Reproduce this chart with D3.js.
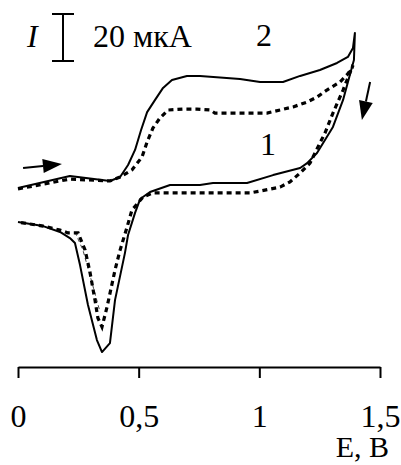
<!DOCTYPE html>
<html>
<head>
<meta charset="utf-8">
<title>CV</title>
<style>
  html, body {margin: 0; padding: 0; background: #fff;}
  svg {display: block;}
</style>
</head>
<body>
<div id="chart"></div>
<script src="https://cdn.jsdelivr.net/npm/d3@7"></script>
<script>
// potential, V
var curve2E = [0, 0.215, 0.381, 0.423, 0.456, 0.485, 0.510, 0.535, 0.568, 0.601, 0.638, 0.700, 0.754, 0.920, 1.003, 1.098, 1.169, 1.251, 1.322, 1.367, 1.388, 1.396,
               1.392, 1.384, 1.347, 1.305, 1.239, 1.198, 1.169, 1.057, 0.949, 0.808, 0.754, 0.630, 0.547, 0.506, 0.485, 0.456, 0.443, 0.402, 0.381, 0.348,
               0.327, 0.290, 0.257, 0.236, 0.215, 0.174, 0.104, 0];
// current, uA (arbitrary zero)
var curve2I = [5.1, 10.2, 8.1, 9.8, 14.9, 21.3, 29.8, 37.4, 42.6, 47.7, 51.1, 52.8, 52.8, 51.5, 50.2, 50.2, 52.8, 55.3, 58.3, 60.9, 64.7, 71.1,
               59.6, 56.6, 42.6, 31.1, 20.0, 15.7, 13.6, 10.6, 7.2, 7.2, 6.4, 6.4, 3.4, 0.4, -5.5, -14.9, -22.6, -42.6, -60.9, -64.7,
               -59.6, -44.7, -27.7, -18.3, -16.2, -13.6, -11.1, -9.4];

var curve1E = [0, 0.215, 0.381, 0.423, 0.472, 0.514, 0.535, 0.559, 0.588, 0.622, 0.684, 0.742, 0.796, 0.816, 0.866, 0.990, 1.032, 1.086, 1.140, 1.198,
               1.239, 1.280, 1.334, 1.363, 1.384, 1.388,
               1.347, 1.305, 1.272, 1.243, 1.210, 1.169, 1.127, 1.086, 1.003, 0.961, 0.754, 0.559, 0.518, 0.497, 0.472, 0.452, 0.423, 0.402, 0.369, 0.348,
               0.331, 0.319, 0.298, 0.278, 0.249, 0.207, 0.174, 0.104, 0];
var curve1I = [4.7, 8.9, 8.1, 9.8, 12.8, 18.3, 24.7, 30.6, 34.9, 38.3, 38.7, 38.7, 38.3, 37.0, 37.0, 37.0, 37.0, 38.3, 39.6, 41.7,
               43.8, 46.8, 50.2, 53.2, 56.2, 57.4,
               46.8, 37.0, 28.5, 22.6, 15.7, 11.5, 7.7, 5.5, 3.8, 3.0, 3.0, 3.0, 1.3, -1.3, -4.3, -11.5, -21.3, -29.8, -45.5, -54.0,
               -50.2, -42.6, -30.6, -21.3, -14.0, -14.0, -12.8, -11.1, -9.4];

// thin dashed trace near the cathodic peak
var thinE = [0.236, 0.269, 0.307, 0.340];
var thinI = [-13.6, -21.3, -35.3, -47.7];

var xTicks = [0, 0.5, 1, 1.5];
var xTickLabels = ["0", "0,5", "1", "1,5"];

var scaleBarUA = 20;

var W = 401, H = 465;
var FONT = "'Liberation Serif', 'Times New Roman', 'DejaVu Serif', serif";
var svg = d3.select("#chart").append("svg").attr("width", W).attr("height", H);

var x = d3.scaleLinear().domain([0, 1.5]).range([18, 380]);
var y = d3.scaleLinear().domain([-70, 80]).range([364.5, 12]);

function label(tx, ty, str, size, anchor) {
    return svg.append("text").attr("x", tx).attr("y", ty)
        .attr("text-anchor", anchor || "start")
        .style("font-family", FONT).style("font-size", size + "px")
        .attr("fill", "#000").text(str);
}

// x axis
var axisY = 367;
var xAxis = d3.axisBottom(x).tickValues(xTicks).tickFormat(function(d, i) { return xTickLabels[i]; })
    .tickSizeInner(11).tickSizeOuter(0).tickPadding(26);
var gx = svg.append("g").attr("transform", "translate(0," + axisY + ")").call(xAxis);
gx.attr("font-family", null).attr("font-size", null);
gx.select(".domain").attr("stroke", "#000").attr("stroke-width", 2);
gx.selectAll(".tick line").attr("stroke", "#000").attr("stroke-width", 2);
gx.selectAll(".tick text").attr("fill", "#000").style("font-family", FONT).style("font-size", "32px");

label(389, 457, "E, B", 30, "end");

// curves
var line = d3.line().x(function(d) { return x(d[0]); }).y(function(d) { return y(d[1]); });
var c2 = d3.zip(curve2E, curve2I), c1 = d3.zip(curve1E, curve1I), th = d3.zip(thinE, thinI);

svg.append("path").datum(th).attr("d", line).attr("fill", "none")
    .attr("stroke", "#444").attr("stroke-width", 1).attr("stroke-dasharray", "4,3");
svg.append("path").datum(c1).attr("d", line).attr("fill", "none")
    .attr("stroke", "#000").attr("stroke-width", 3.2).attr("stroke-dasharray", "5,4");
svg.append("path").datum(c2).attr("d", line).attr("fill", "none")
    .attr("stroke", "#000").attr("stroke-width", 2).attr("stroke-linejoin", "round");

// arrows
function arrow(e0, i0, e1, i1) {
    var x0 = x(e0), y0 = y(i0), x1 = x(e1), y1 = y(i1);
    var a = Math.atan2(y1 - y0, x1 - x0), len = 19, hw = 7;
    var bx = x1 - len * Math.cos(a), by = y1 - len * Math.sin(a);
    svg.append("line").attr("x1", x0).attr("y1", y0).attr("x2", bx).attr("y2", by)
        .attr("stroke", "#000").attr("stroke-width", 2);
    svg.append("path").attr("d", d3.line()([[x1, y1],
        [bx + hw * Math.sin(a), by - hw * Math.cos(a)],
        [bx - hw * Math.sin(a), by + hw * Math.cos(a)]]) + "Z").attr("fill", "#000");
}
arrow(0.021, 13.6, 0.182, 15.3);
arrow(1.459, 50.2, 1.425, 34.0);

// curve labels
label(264, 46, "2", 32, "middle");
label(268, 155, "1", 32, "middle");

// scale bar
var sbX = 63, sbTop = 14, sbBot = sbTop + (y(0) - y(scaleBarUA));
svg.append("line").attr("x1", sbX).attr("x2", sbX).attr("y1", sbTop).attr("y2", sbBot).attr("stroke", "#000").attr("stroke-width", 2);
svg.append("line").attr("x1", sbX - 11).attr("x2", sbX + 11).attr("y1", sbTop).attr("y2", sbTop).attr("stroke", "#000").attr("stroke-width", 2);
svg.append("line").attr("x1", sbX - 11).attr("x2", sbX + 11).attr("y1", sbBot).attr("y2", sbBot).attr("stroke", "#000").attr("stroke-width", 2);
label(27, 47, "I", 32).style("font-style", "italic");
label(93, 47, "20 мкА", 32);
</script>
</body>
</html>
